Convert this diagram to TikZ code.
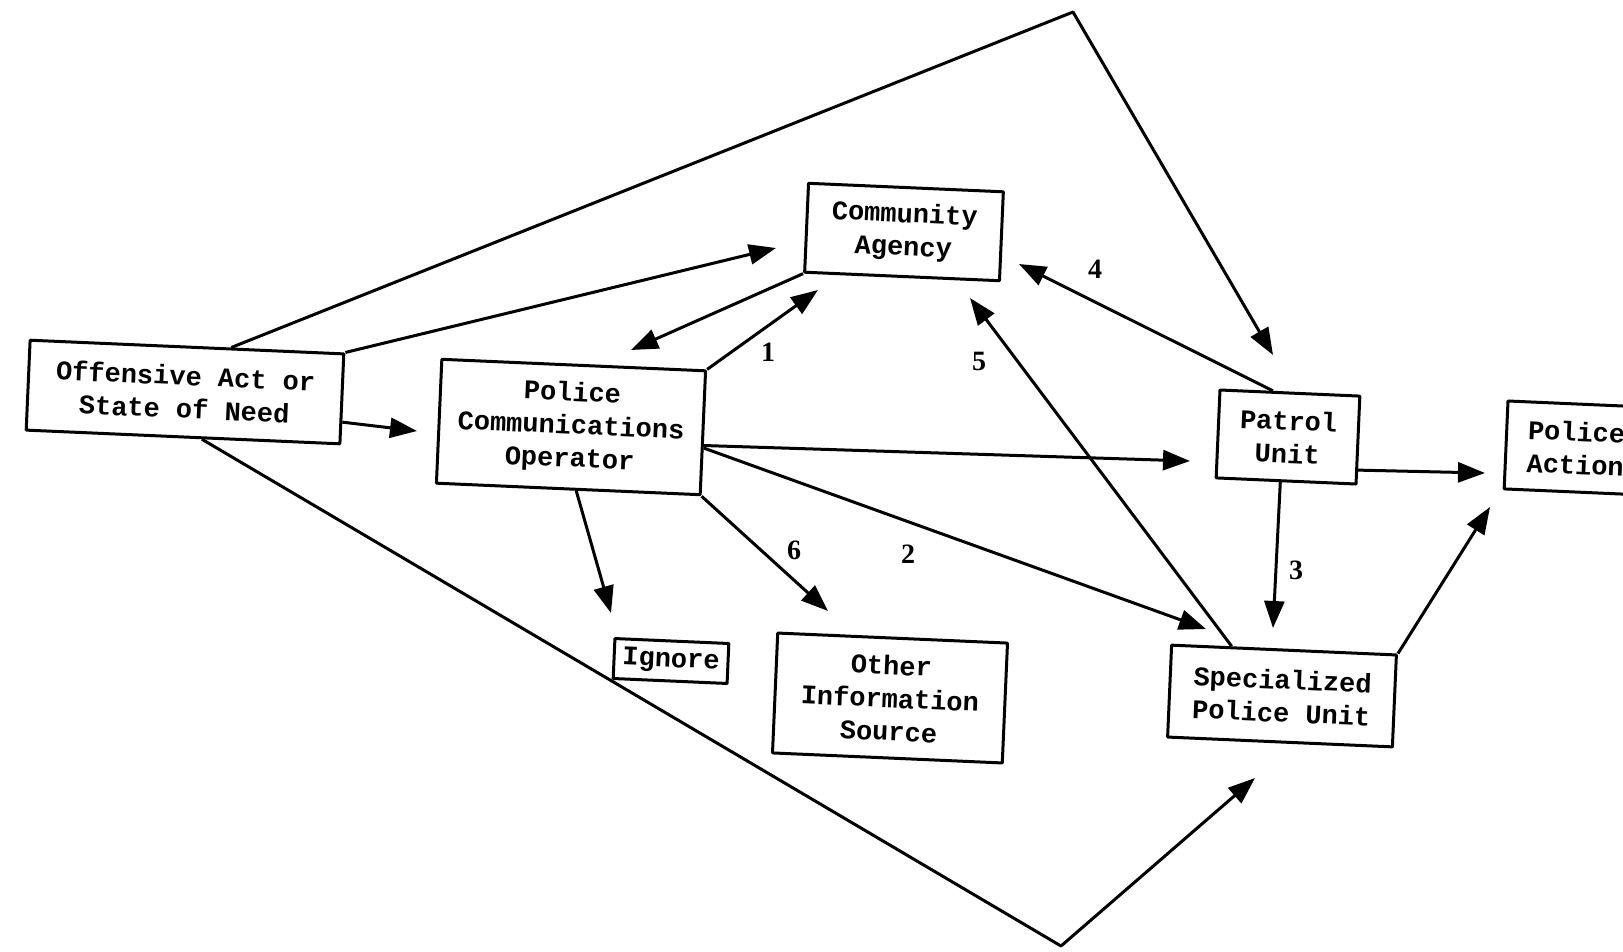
\documentclass[tikz,border=0pt]{standalone}
\usepackage{fontspec}
\setmainfont{Liberation Serif}
\newfontfamily\tw{Liberation Mono}
\usetikzlibrary{arrows.meta,calc}
\begin{document}
\begin{tikzpicture}[x=1pt,y=-1pt,line join=round,
  box/.style={draw,line width=3pt,rotate=-2.5,inner sep=0pt,align=center,
    font=\tw\bfseries\fontsize{27}{33}\selectfont},
  conn/.style={line width=3pt,-{Triangle[length=27pt,width=20pt]}},
  lbl/.style={font=\bfseries\fontsize{28}{30}\selectfont,inner sep=0pt}]
\useasboundingbox (0,0) rectangle (1623,951);
% boxes
\node[box,minimum width=314pt,minimum height=90pt] (off) at (185,392) {Offensive Act or\\State of Need};
\node[box,minimum width=264pt,minimum height=124pt] (pol) at (571,427) {Police\\Communications\\Operator};
\node[box,minimum width=195pt,minimum height=89pt] (com) at (904,232) {Community\\Agency};
\node[box,minimum width=140pt,minimum height=88pt] (pat) at (1288,437) {Patrol\\Unit};
\node[box,minimum width=140pt,minimum height=88pt] (act) at (1576,448) {Police\\Action};
\node[box,minimum width=114pt,minimum height=40pt] (ign) at (671,661) {Ignore};
\node[box,minimum width=230pt,minimum height=120pt] (oth) at (890,698) {Other\\Information\\Source};
\node[box,minimum width=225pt,minimum height=92pt] (spe) at (1282,696) {Specialized\\Police Unit};
% free ends
\coordinate (apex) at (1073,12);
\coordinate (vtx) at (1061,946);
\coordinate (ta) at (1273,355);
\coordinate (tb) at (776,248);
\coordinate (tc) at (417,431);
\coordinate (td) at (1255,778);
\coordinate (te) at (631,350);
\coordinate (tf) at (818,290);
\coordinate (tg) at (1019,264);
\coordinate (th) at (970,298);
\coordinate (ti) at (1190,461);
\coordinate (tj) at (1206,629);
\coordinate (tk) at (828,611);
\coordinate (tl) at (611,613);
\coordinate (tm) at (1273,628);
\coordinate (tn) at (1485,473);
\coordinate (to) at (1490,507);
% connectors
\draw[conn] ($(off.north west)!0.64!(off.north east)$) -- (apex) -- (ta);
\draw[conn] (off.north east) -- (tb);
\draw[conn] ($(off.north east)!0.75!(off.south east)$) -- (tc);
\draw[conn] ($(off.south west)!0.56!(off.south east)$) -- (vtx) -- (td);
\draw[conn] (com.south west) -- (te);
\draw[conn] (pol.north east) -- (tf);
\draw[conn] ($(pat.north west)!0.38!(pat.north east)$) -- (tg);
\draw[conn] ($(spe.north west)!0.27!(spe.north east)$) -- (th);
\draw[conn] ($(pol.north east)!0.6!(pol.south east)$) -- (ti);
\draw[conn] ($(pol.north east)!0.62!(pol.south east)$) -- (tj);
\draw[conn] (pol.south east) -- (tk);
\draw[conn] ($(pol.south west)!0.53!(pol.south east)$) -- (tl);
\draw[conn] ($(pat.south west)!0.46!(pat.south east)$) -- (tm);
\draw[conn] ($(pat.north east)!0.83!(pat.south east)$) -- (tn);
\draw[conn] (spe.north east) -- (to);
% labels
\node[lbl] (l1) at (768,352) {1};
\node[lbl] (l2) at (908,554) {2};
\node[lbl] (l3) at (1296,570) {3};
\node[lbl] (l4) at (1095,269) {4};
\node[lbl] (l5) at (979,361) {5};
\node[lbl] (l6) at (794,550) {6};
\end{tikzpicture}
\end{document}
